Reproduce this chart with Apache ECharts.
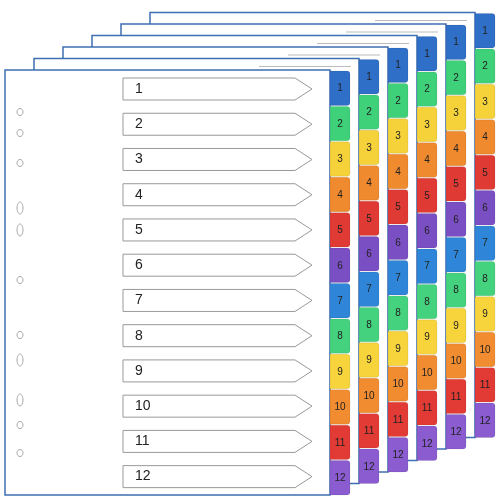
<!DOCTYPE html><html><head><meta charset="utf-8">
<script src="https://cdn.jsdelivr.net/npm/echarts@6/dist/echarts.min.js"></script>
<style>html,body{margin:0;background:#fff}#c{width:497px;height:497px}</style></head><body><div id="c"></div>
<script>
const tabLabels=['1','2','3','4','5','6','7','8','9','10','11','12'];
const tabColors=['#2f6fc8','#3fd07a','#f5d23a','#f08a2e','#e03a35','#7a4fc4','#2f86d8','#45d27e','#f7d43c','#f28c30','#e23b36','#8a5cd0'];
const sheets=[5,4,3,2,1,0]; // back to front
const holes=[112,133,163,208,230,280,335,360,400,425,453];
const chart=echarts.init(document.getElementById('c'));
const sx=i=>5+29*i, sy=i=>70-11.5*i;
const W=325,H=425;
function sheetItem(params,api){
  const i=api.value(0);const x=sx(i),y=sy(i);
  const p=api.coord([x,y]);
  const ch=[{type:'rect',shape:{x:p[0],y:p[1],width:W,height:H},style:{fill:'#fff',stroke:'#3f6fb0',lineWidth:1.5}}];
  const th=H/12;
  for(let k=0;k<12;k++){
    const ty=p[1]+k*th+1;
    ch.push({type:'rect',shape:{x:p[0]+W,y:ty,width:20,height:th-1,r:[0,3,3,0]},style:{fill:tabColors[k],stroke:'rgba(0,0,0,0.15)',lineWidth:0.5}});
    ch.push({type:'text',style:{x:p[0]+W+10,y:ty+th/2,text:tabLabels[k],fill:'#222',font:'10px Liberation Sans',align:'center',verticalAlign:'middle'}});
  }
  if(i===0){
    holes.forEach((h,j)=>{const oval=(j===3||j===4||j===7||j===8);ch.push({type:'ellipse',shape:{cx:p[0]+15,cy:h,rx:3,ry:oval?6:3.5},style:{fill:'#fff',stroke:'#aaa',lineWidth:1}});});
    for(let k=0;k<12;k++){
      const cy=p[1]+19+k*th*0.995, x0=123, x1=295, x2=312, hh=11;
      ch.push({type:'polygon',shape:{points:[[x0,cy-hh],[x1,cy-hh],[x2,cy],[x1,cy+hh],[x0,cy+hh]]},style:{fill:'#fff',stroke:'#999',lineWidth:1}});
      ch.push({type:'text',style:{x:x0+12,y:cy,text:tabLabels[k],fill:'#222',font:'14px Liberation Sans',verticalAlign:'middle'}});
    }
  } else {
    ch.push({type:'line',shape:{x1:p[0]+W-100,y1:p[1]+8,x2:p[0]+W-8,y2:p[1]+8},style:{stroke:'#bbb',lineWidth:1}});
  }
  return {type:'group',children:ch};
}
chart.setOption({animation:false,
 grid:{left:0,right:0,top:0,bottom:0},
 xAxis:{type:'value',min:0,max:497,show:false},
 yAxis:{type:'value',min:0,max:497,inverse:true,show:false},
 series:[{type:'custom',renderItem:sheetItem,data:sheets.map(s=>[s])}]});
</script></body></html>
